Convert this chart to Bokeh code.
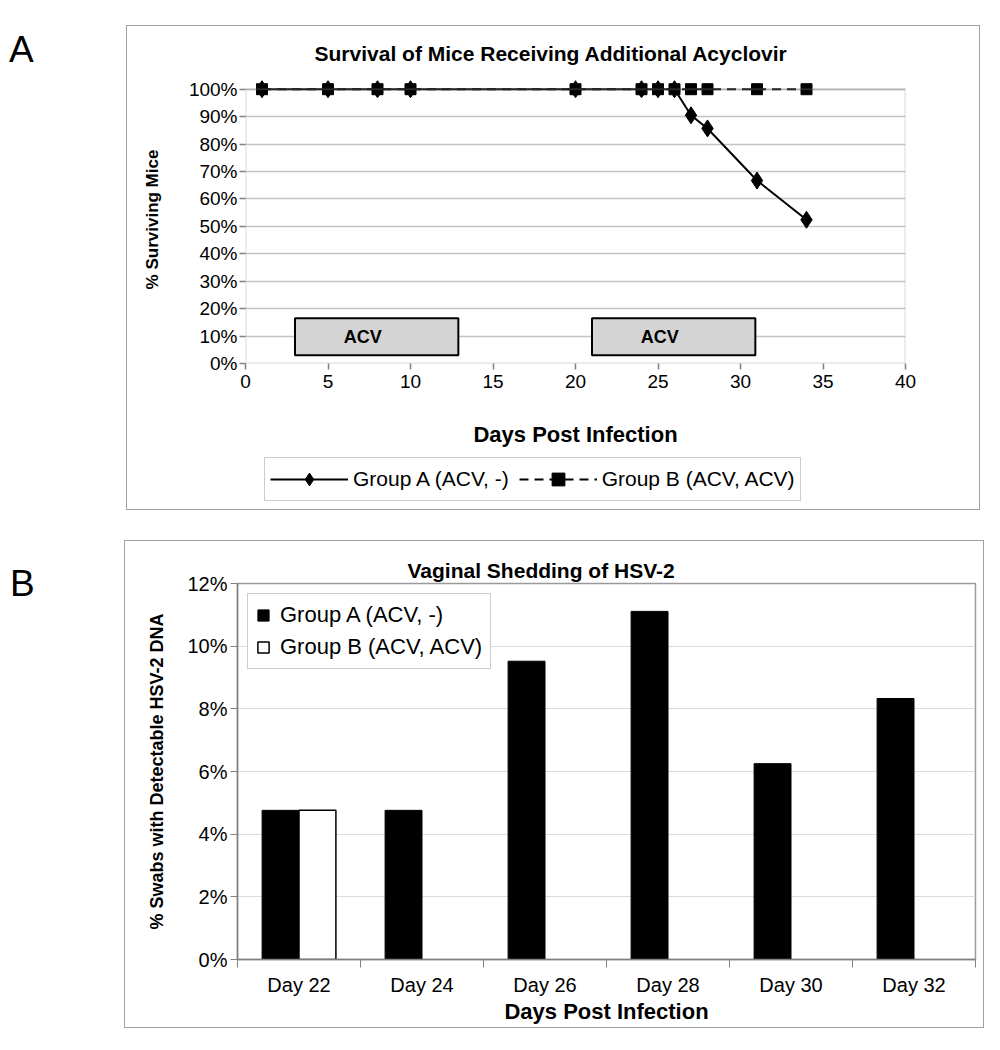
from bokeh.plotting import figure
from bokeh.models import (ColumnDataSource, Legend, LegendItem, PrintfTickFormatter,
                          FixedTicker, Range1d, Div, Spacer, LinearAxis, BoxAnnotation)
from bokeh.layouts import column, row
from bokeh.core.properties import value
from bokeh.transform import dodge
from bokeh.embed import file_html
from bokeh.resources import INLINE

FONT = "Liberation Sans"

# ---------------- Panel A data ----------------
days_a = [1, 5, 8, 10, 20, 24, 25, 26, 27, 28, 31, 34]
surv_a = [100, 100, 100, 100, 100, 100, 100, 100, 90.5, 85.7, 66.7, 52.4]
days_b = [1, 5, 8, 10, 20, 24, 25, 26, 27, 28, 31, 34]
surv_b = [100, 100, 100, 100, 100, 100, 100, 100, 100, 100, 100, 100]
acv_start = [3, 21]
acv_end = [12.9, 30.9]
acv_bottom = [3, 3]
acv_top = [16.5, 16.5]
acv_text = ["ACV", "ACV"]
acv_text_x = [7.1, 25.1]
acv_text_y = [9.7, 9.7]
x_ticks_a = [0, 5, 10, 15, 20, 25, 30, 35, 40]
y_ticks_a = [0, 10, 20, 30, 40, 50, 60, 70, 80, 90, 100]
label_a = "Group A (ACV, -)"
label_b = "Group B (ACV, ACV)"

# ---------------- Panel B data ----------------
days_cat = ["Day 22", "Day 24", "Day 26", "Day 28", "Day 30", "Day 32"]
shed_a = [4.76, 4.76, 9.52, 11.11, 6.25, 8.33]
shed_b = [4.76, 0, 0, 0, 0, 0]
y_ticks_b = [0, 2, 4, 6, 8, 10, 12]

GRAY = "#808080"
PANEL_BORDER = {"border": "1px solid #a0a0a0"}
DASH = "9 6"

# ================= Panel A =================
p1 = figure(width=852, height=430, x_range=Range1d(0, 40), y_range=Range1d(0, 105),
            output_backend="svg", toolbar_location=None,
            min_border_left=118, min_border_right=74, min_border_top=49, min_border_bottom=93,
            title="Survival of Mice Receiving Additional Acyclovir")
p1.title.text_font = FONT
p1.title.text_font_size = "21px"
p1.title.text_font_style = "bold"
p1.title.text_color = "black"
p1.title.align = "left"
p1.title.offset = 69
p1.title.standoff = 22
p1.outline_line_color = None
p1.xgrid.visible = False
p1.ygrid.grid_line_color = "#c4c4c4"
p1.ygrid.grid_line_width = 1.5
p1.ygrid.ticker = FixedTicker(ticks=y_ticks_a)

p1.xaxis.ticker = FixedTicker(ticks=x_ticks_a)
p1.yaxis.ticker = FixedTicker(ticks=y_ticks_a)
p1.yaxis.formatter = PrintfTickFormatter(format="%d%%")
for ax in (p1.xaxis, p1.yaxis):
    ax.axis_line_color = None
    ax.major_tick_line_color = GRAY
    ax.major_tick_line_width = 1.5
    ax.major_tick_out = 6
    ax.major_tick_in = 0
    ax.minor_tick_line_color = None
    ax.major_label_text_font = FONT
    ax.major_label_text_font_size = "19px"
    ax.major_label_text_color = "black"
    ax.axis_label_text_font = FONT
    ax.axis_label_text_font_style = "bold"
    ax.axis_label_text_color = "black"
p1.xaxis.axis_label = "Days Post Infection"
p1.xaxis.axis_label_text_font_size = "22px"
p1.xaxis.major_label_standoff = 5
p1.xaxis.axis_label_standoff = 31
p1.yaxis.axis_label = "% Surviving Mice"
p1.yaxis.axis_label_text_font_size = "17px"
p1.yaxis.major_label_standoff = 2
p1.yaxis.axis_label_standoff = 24

# plot frame (0..40, 0..100)
p1.add_layout(BoxAnnotation(left=0, right=40, bottom=0, top=100, fill_alpha=0,
                            line_color=GRAY, line_width=2))

acv_src = ColumnDataSource(dict(left=acv_start, right=acv_end, bottom=acv_bottom, top=acv_top))
p1.quad(left="left", right="right", bottom="bottom", top="top", source=acv_src,
        fill_color="#d4d4d4", line_color="black", line_width=2)
p1.text(x=acv_text_x, y=acv_text_y, text=acv_text, text_align="center", text_baseline="middle",
        text_font=value(FONT), text_font_style="bold", text_font_size="18px", text_color="black")

p1.line(days_b, surv_b, line_color="black", line_width=2, line_dash=DASH)
p1.scatter(days_b, surv_b, marker="square", size=11, color="black")
p1.line(days_a, surv_a, line_color="black", line_width=2)
p1.scatter(days_a, surv_a, marker="diamond", size=17, color="black")

# legend strip under panel A (own small canvas so the legend is not clipped by the plot frame);
# its proxy renderers use the same data, which lies outside this strip's 0..1 view.
pl = figure(width=852, height=53, x_range=Range1d(0, 1), y_range=Range1d(0, 1),
            output_backend="svg", toolbar_location=None, x_axis_location=None,
            y_axis_location=None, min_border=0)
pl.outline_line_color = None
pl.grid.visible = False
lg_line_a = pl.line(days_a, surv_a, line_color="black", line_width=2)
lg_mark_a = pl.scatter(days_a, surv_a, marker="diamond", size=17, color="black")
lg_line_b = pl.line(days_b, surv_b, line_color="black", line_width=2, line_dash=DASH)
lg_mark_b = pl.scatter(days_b, surv_b, marker="square", size=11, color="black")
leg1 = Legend(items=[LegendItem(label=label_a, renderers=[lg_line_a, lg_mark_a]),
                     LegendItem(label=label_b, renderers=[lg_line_b, lg_mark_b])],
              orientation="horizontal", location=(19, 8),
              label_text_font=FONT, label_text_font_size="21px", label_text_color="black",
              glyph_width=78, glyph_height=32, label_standoff=5, spacing=10,
              padding=5, margin=0, border_line_color="#9a9a9a", border_line_width=1.5)
pl.add_layout(leg1)

# ================= Panel B =================
n_cat = len(days_cat)
cat_pos = [i + 0.5 for i in range(n_cat)]          # category centres on a 0..n axis
edge_pos = [i for i in range(n_cat + 1)]            # category boundaries (tick marks)

p2 = figure(width=858, height=486, x_range=Range1d(0, n_cat), y_range=Range1d(0, 12),
            output_backend="svg", toolbar_location=None, x_axis_location=None,
            min_border_left=112, min_border_right=8, min_border_top=42, min_border_bottom=68,
            title="Vaginal Shedding of HSV-2")
p2.title.text_font = FONT
p2.title.text_font_size = "21px"
p2.title.text_font_style = "bold"
p2.title.text_color = "black"
p2.title.align = "left"
p2.title.offset = 170
p2.title.standoff = 4
p2.outline_line_color = "#9a9a9a"
p2.outline_line_width = 1.5
p2.xgrid.visible = False
p2.ygrid.grid_line_color = "#dcdcdc"
p2.ygrid.grid_line_width = 1
p2.ygrid.ticker = FixedTicker(ticks=y_ticks_b)

p2.yaxis.ticker = FixedTicker(ticks=y_ticks_b)
p2.yaxis.formatter = PrintfTickFormatter(format="%d%%")
p2.yaxis.axis_line_color = GRAY
p2.yaxis.axis_line_width = 1.5
p2.yaxis.major_tick_line_color = GRAY
p2.yaxis.major_tick_out = 7
p2.yaxis.major_tick_in = 0
p2.yaxis.minor_tick_line_color = None
p2.yaxis.major_label_text_font = FONT
p2.yaxis.major_label_text_font_size = "20px"
p2.yaxis.major_label_text_color = "black"
p2.yaxis.major_label_standoff = 3
p2.yaxis.axis_label = "% Swabs with Detectable HSV-2 DNA"
p2.yaxis.axis_label_text_font = FONT
p2.yaxis.axis_label_text_font_size = "18px"
p2.yaxis.axis_label_text_font_style = "bold"
p2.yaxis.axis_label_text_color = "black"
p2.yaxis.axis_label_standoff = 17

cat_axis = LinearAxis(ticker=FixedTicker(ticks=cat_pos, minor_ticks=edge_pos),
                      major_label_overrides={pos: lab for pos, lab in zip(cat_pos, days_cat)},
                      axis_line_color=GRAY, axis_line_width=1.5,
                      major_tick_line_color=None,
                      minor_tick_line_color=GRAY, minor_tick_out=8, minor_tick_in=0,
                      major_tick_out=8, major_tick_in=0,
                      major_label_text_font=FONT, major_label_text_font_size="20px",
                      major_label_text_color="black", major_label_standoff=6,
                      axis_label="Days Post Infection", axis_label_text_font=FONT,
                      axis_label_text_font_size="22px", axis_label_text_font_style="bold",
                      axis_label_text_color="black", axis_label_standoff=0)
p2.add_layout(cat_axis, "below")

src_a = ColumnDataSource(dict(pos=cat_pos, val=shed_a))
bar_a = p2.vbar(x=dodge("pos", -0.15), top="val", width=0.3, source=src_a,
                fill_color="black", line_color="black")
nz_pos = [p for p, v in zip(cat_pos, shed_b) if v > 0]
nz_vals = [v for v in shed_b if v > 0]
src_b = ColumnDataSource(dict(pos=nz_pos, val=nz_vals))
bar_b = p2.vbar(x=dodge("pos", 0.15), top="val", width=0.3, source=src_b,
                fill_color="white", line_color="black", line_width=1.5)

leg2 = Legend(items=[LegendItem(label=label_a, renderers=[bar_a]),
                     LegendItem(label=label_b, renderers=[bar_b])],
              location="top_left", label_text_font=FONT, label_text_font_size="22px",
              label_text_color="black",
              glyph_width=14, glyph_height=14, label_standoff=10, spacing=6,
              padding=8, margin=10, border_line_color="#9a9a9a", border_line_width=1.5)
p2.add_layout(leg2)

divA = Div(text='<span style="font-family:Liberation Sans;font-size:37px;line-height:1">A</span>',
           width=116, height=50, styles={"padding-left": "4px", "padding-top": "1px"})
divB = Div(text='<span style="font-family:Liberation Sans;font-size:37px;line-height:1">B</span>',
           width=114, height=50, styles={"padding-left": "5px", "padding-top": "20px"})

panel_a = column(p1, pl, styles=PANEL_BORDER)
panel_b = column(p2, styles=PANEL_BORDER)

layout = column(Spacer(height=25), row(divA, panel_a), Spacer(height=30), row(divB, panel_b))
open("out.html", "w").write(file_html(layout, INLINE))
